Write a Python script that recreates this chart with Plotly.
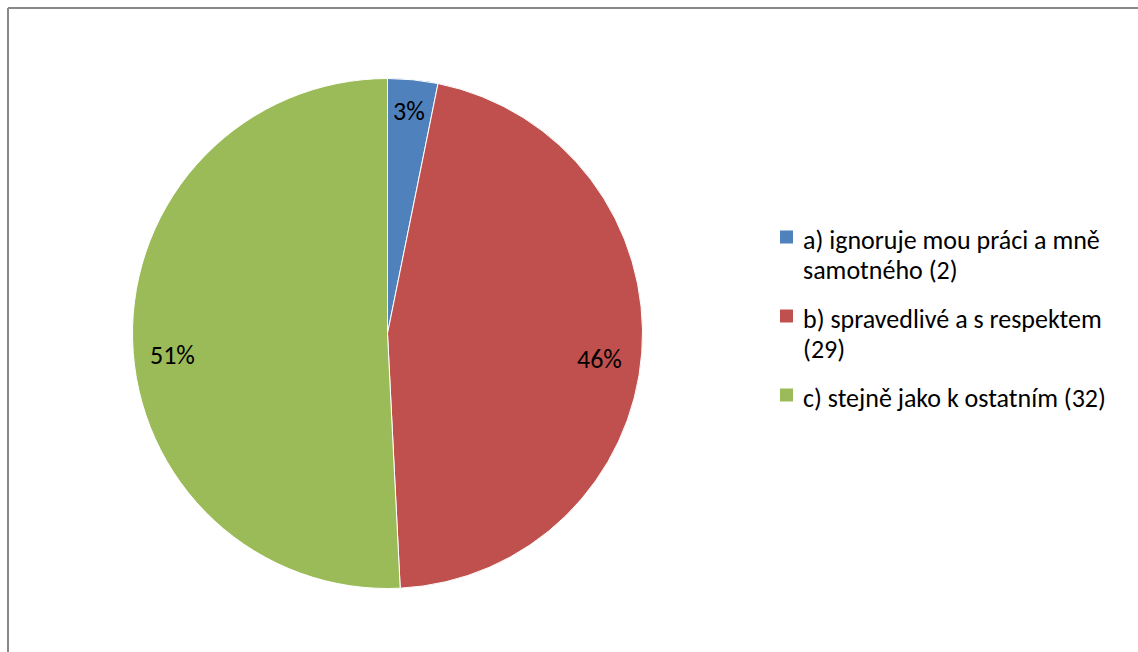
import math
import plotly.graph_objects as go

# Survey answers (wrapped with "|") and their counts
answers = [
    "a) ignoruje mou práci a mně|samotného",
    "b) spravedlivé a s respektem|",
    "c) stejně jako k ostatním",
]
counts = [2, 29, 32]
colors = ["#4F81BD", "#C0504D", "#9BBB59"]

W, H = 1138, 652
FONT = "Carlito, Calibri, Lato, 'Open Sans', sans-serif"
FS = 26
LINE_H = 30

# pie geometry in pixels
cx, cy, R = 387.5, 333.5, 255.0
# small placement nudges for the percentage labels (px)
label_nudge = [(0, -7), (-4, 9), (2, 16)]


def px(x):
    return x / W


def py(y):
    return 1 - y / H


fig = go.Figure(
    go.Pie(
        labels=[a.replace("|", " ") for a in answers],
        values=counts,
        marker=dict(colors=colors, line=dict(color="white", width=1)),
        sort=False,
        direction="clockwise",
        rotation=0,
        textinfo="none",
        hoverinfo="label+value+percent",
        domain=dict(x=[px(cx - R), px(cx + R)], y=[py(cy + R), py(cy - R)]),
        showlegend=False,
    )
)

annotations = []
shapes = []

# percentage labels placed along each slice's mid-angle
total = sum(counts)
cum = 0
for v, (dx, dy) in zip(counts, label_nudge):
    mid = (cum + v / 2) / total * 2 * math.pi
    cum += v
    rr = 0.85 * R
    lx = cx + rr * math.sin(mid) + dx
    ly = cy - rr * math.cos(mid) + dy
    annotations.append(
        dict(
            x=px(lx), y=py(ly), xref="paper", yref="paper",
            text=f"{round(100 * v / total)}%", showarrow=False,
            xanchor="center", yanchor="middle",
            font=dict(family=FONT, size=FS, color="#000000"),
        )
    )

# legend: colour squares with wrapped labels
legend_rows = [240, 319, 398]
for name, v, c, row in zip(answers, counts, colors, legend_rows):
    shapes.append(
        dict(
            type="rect", xref="paper", yref="paper",
            x0=px(780), x1=px(793), y0=py(row - 3 - 6.5), y1=py(row - 3 + 6.5),
            fillcolor=c, line=dict(width=0),
        )
    )
    lines = f"{name} ({v})".replace("| (", "|(").split("|")
    for i, line in enumerate(lines):
        annotations.append(
            dict(
                x=px(801), y=py(row + i * LINE_H), xref="paper", yref="paper",
                text=line, showarrow=False, align="left",
                xanchor="left", yanchor="middle",
                font=dict(family=FONT, size=FS, color="#000000"),
            )
        )

# chart frame (left and top edges)
for x0, y0, x1, y1 in [(8, 8, 8, 660), (8, 8, 1140, 8)]:
    shapes.append(
        dict(
            type="line", xref="paper", yref="paper",
            x0=px(x0), y0=py(y0), x1=px(x1), y1=py(y1),
            line=dict(color="#898989", width=2),
        )
    )

fig.update_layout(
    width=W, height=H,
    margin=dict(l=0, r=0, t=0, b=0),
    paper_bgcolor="white", plot_bgcolor="white",
    annotations=annotations, shapes=shapes,
    font=dict(family=FONT, size=FS),
)

fig.write_html("out.html")
